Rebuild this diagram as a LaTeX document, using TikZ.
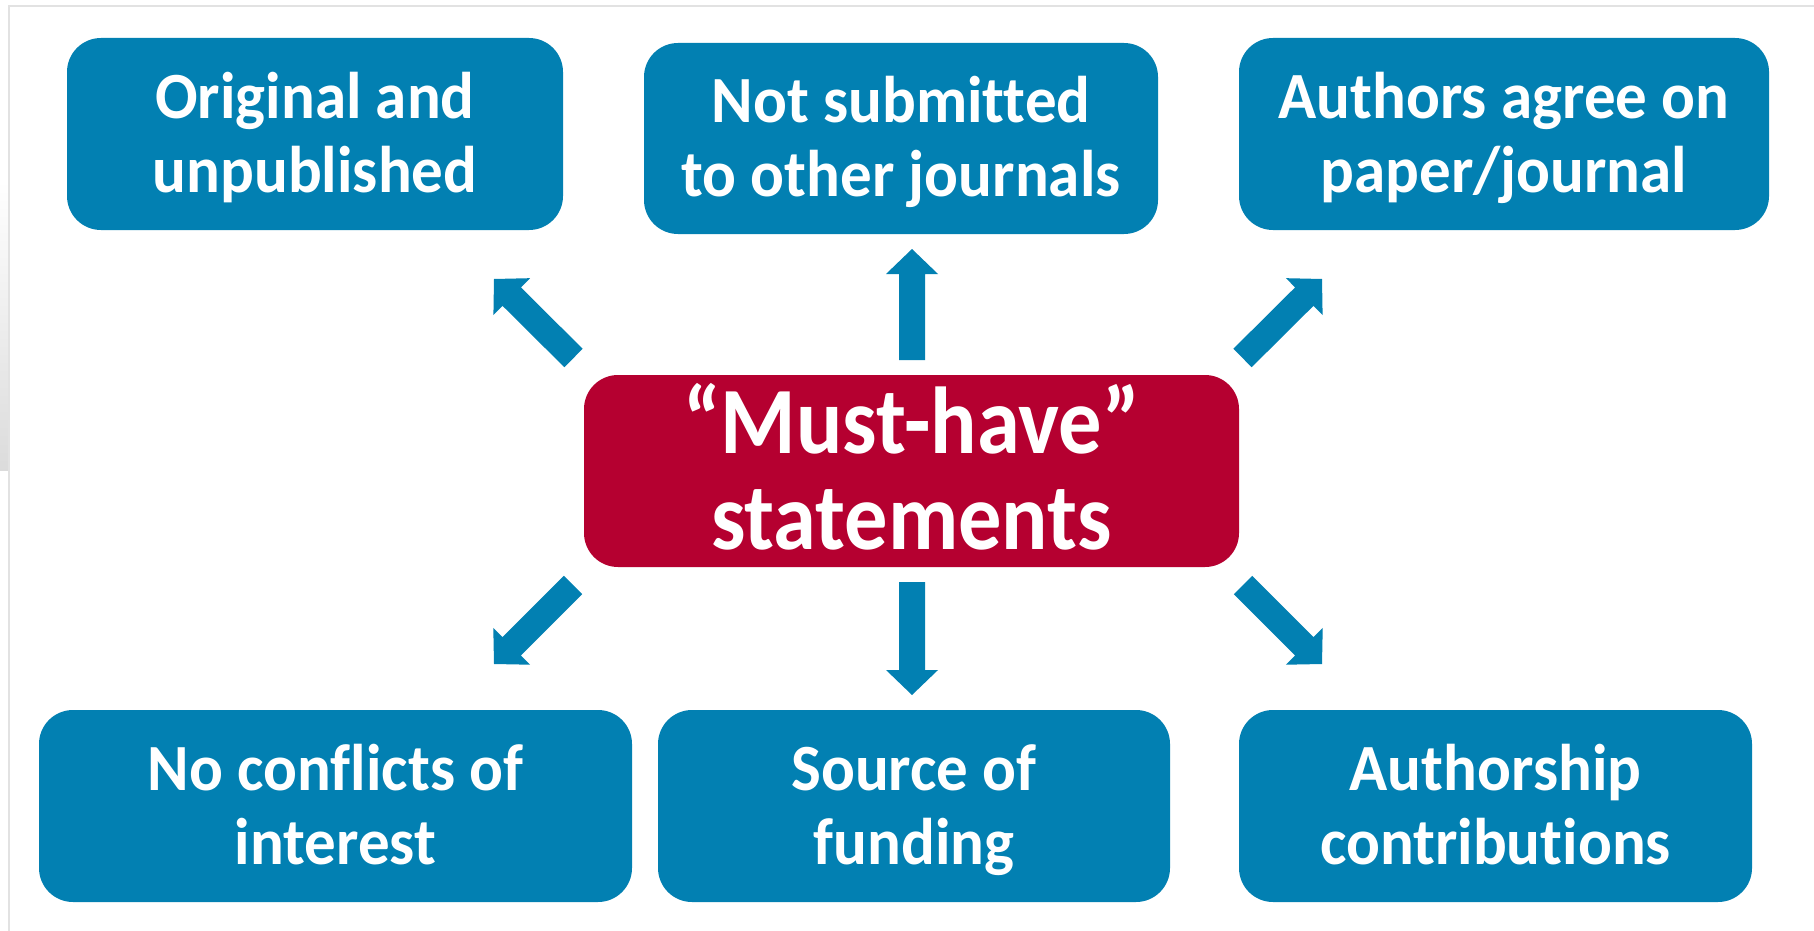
\documentclass[tikz,border=0pt]{standalone}
\usepackage{fontspec}
\newfontfamily\boxfont[FakeStretch=0.955,Ligatures=CommonOff]{Carlito}
\newfontfamily\centerfont[FakeStretch=0.91,Ligatures=CommonOff]{Carlito}
\usetikzlibrary{calc}
\definecolor{boxblue}{HTML}{0280B2}
\definecolor{boxred}{HTML}{B50030}
\definecolor{framegray}{HTML}{E2E2E2}
% two centred lines; the block from the cap top of line 1 to the baseline of line 2 is centred on the node
\newcommand\twolines[2]{%
  \makebox[0pt]{\raisebox{\dimexpr(\baselineskip-\fontcharht\font`H)/2\relax}[0pt][0pt]{#1}}%
  \makebox[0pt]{\raisebox{\dimexpr(0pt-\baselineskip-\fontcharht\font`H)/2\relax}[0pt][0pt]{#2}}}
\newcommand\blockarrow[2]{%
  \coordinate (ah) at ($(#2)!25pt!(#1)$);
  \fill[boxblue] ($(#1)!13pt!90:(#2)$) -- ($(ah)!13pt!90:(#2)$) -- ($(ah)!26pt!90:(#2)$) -- (#2)
    -- ($(ah)!26pt!-90:(#2)$) -- ($(ah)!13pt!-90:(#2)$) -- ($(#1)!13pt!-90:(#2)$) -- cycle;}
\begin{document}
\begin{tikzpicture}[x=1pt,y=-1pt,
  box/.style={rounded corners=34pt, inner sep=0pt, text=white},
  bluebox/.style={box, fill=boxblue, minimum height=192pt,
    font=\boxfont\bfseries\fontsize{66}{74}\selectfont},
  redbox/.style={box, fill=boxred, minimum height=192pt,
    font=\centerfont\bfseries\fontsize{95}{96}\selectfont}]
\useasboundingbox (0,0) rectangle (1814,931);
\fill[white] (0,0) rectangle (1814,931);
\shade[top color=white, bottom color=black!14] (0,180) rectangle (9,470);
\draw[framegray, line width=1.5pt] (9,931) -- (9,6) -- (1814,6);

\node[bluebox, minimum width=496pt] (tl) at (315,134) {\twolines{Original and}{unpublished}};
\node[bluebox, minimum width=514pt, minimum height=191pt] (tm) at (901,138.5) {\twolines{Not submitted}{to other journals}};
\node[bluebox, minimum width=530pt] (tr) at (1504,134) {\twolines{Authors agree on}{paper/journal}};
\node[redbox, minimum width=655pt] (c) at (911.5,471) {\twolines{“Must-have”}{statements}};
\node[bluebox, minimum width=593pt] (bl) at (335.5,806) {\twolines{No conflicts of}{interest}};
\node[bluebox, minimum width=512pt] (bm) at (914,806) {\twolines{Source of}{funding}};
\node[bluebox, minimum width=513pt] (br) at (1495.5,806) {\twolines{Authorship}{contributions}};

\coordinate (tlA) at (573.5,358); \coordinate (tlB) at (494,279);
\coordinate (tmA) at (912,360);   \coordinate (tmB) at (912,249);
\coordinate (trA) at (1242.5,358); \coordinate (trB) at (1322,279);
\coordinate (blA) at (573,585);   \coordinate (blB) at (494,664);
\coordinate (bmA) at (912,582);   \coordinate (bmB) at (912,695);
\coordinate (brA) at (1243,585);  \coordinate (brB) at (1322,664);
\blockarrow{tlA}{tlB}
\blockarrow{tmA}{tmB}
\blockarrow{trA}{trB}
\blockarrow{blA}{blB}
\blockarrow{bmA}{bmB}
\blockarrow{brA}{brB}
\end{tikzpicture}
\end{document}
